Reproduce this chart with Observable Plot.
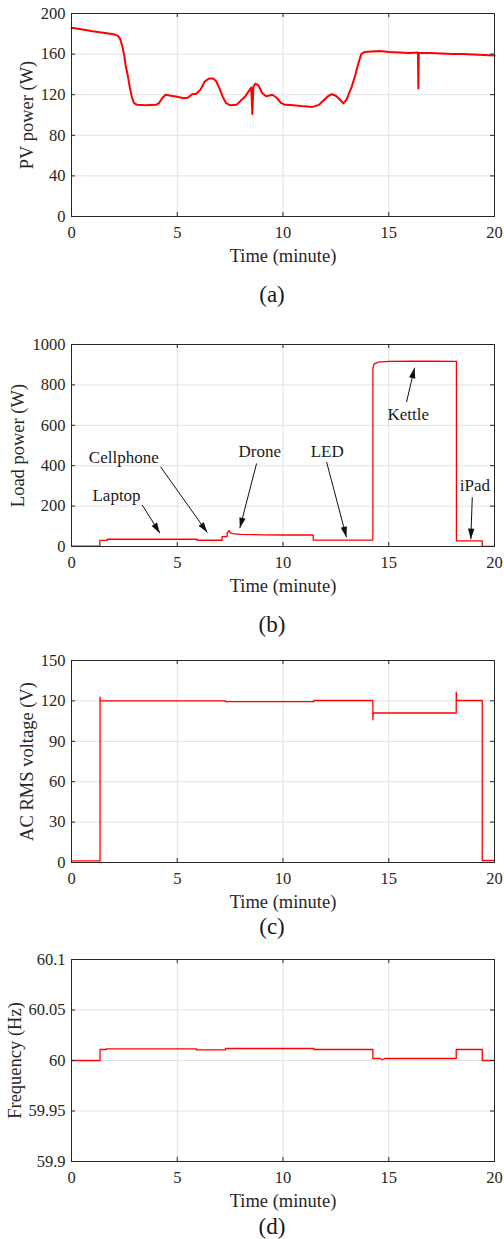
<!DOCTYPE html>
<html>
<head>
<meta charset="utf-8">
<script src="https://cdn.jsdelivr.net/npm/d3@7"></script>
<script src="https://cdn.jsdelivr.net/npm/@observablehq/plot@0.6"></script>
<style>
  html, body { margin: 0; padding: 0; background: #fff; }
  body { width: 504px; height: 1239px; position: relative; overflow: hidden;
         font-family: "Liberation Serif", "Times New Roman", serif; }
  svg, svg text { font-family: "Liberation Serif", "Times New Roman", serif !important; }
  .panel { position: absolute; left: 0; }
  .cap { position: absolute; left: 222px; width: 100px; text-align: center;
         font-size: 23px; line-height: 24px; color: #1a1a1a; }
</style>
</head>
<body>
<script>
// ---------- data ----------
const timeTicks = [0, 5, 10, 15, 20];

// (a) PV power
const pvTime  = [0, 0.3, 0.6, 1.0, 1.5, 2.0, 2.2, 2.3, 2.4, 2.5, 2.55, 2.65, 2.75, 2.85, 2.95, 3.1, 3.5, 4.0, 4.15, 4.3, 4.45, 4.7, 5.0, 5.3, 5.5, 5.7, 5.9, 6.1, 6.3, 6.5, 6.7, 6.85, 7.0, 7.15, 7.3, 7.5, 7.8, 8.0, 8.2, 8.4, 8.5, 8.55, 8.6, 8.7, 8.85, 9.0, 9.2, 9.5, 9.7, 9.9, 10.1, 10.5, 11.0, 11.4, 11.7, 11.9, 12.1, 12.3, 12.5, 12.7, 12.85, 13.0, 13.1, 13.25, 13.4, 13.55, 13.7, 13.85, 14.2, 14.6, 15.0, 15.5, 16.0, 16.38, 16.4, 16.42, 17.0, 17.5, 18.0, 18.5, 19.0, 19.5, 20];
const pvPower = [186, 185, 184, 182.5, 181, 179.5, 178, 175, 168, 158, 150, 140, 128, 118, 112, 110, 109.5, 110, 112, 117, 120, 119, 118, 116.5, 117, 120.5, 121, 125, 133, 136, 136, 133, 126, 118, 112, 109.5, 110, 114, 118, 124, 127, 101, 128, 131, 129, 122, 118.5, 120, 117, 112, 110, 109.5, 108.5, 108, 110, 114, 118, 120.5, 119, 115, 111.5, 115, 120, 128, 138, 150, 160, 162, 162.5, 163, 162, 161.5, 161, 161.5, 126, 161, 161, 160.5, 160, 160, 159.5, 159, 158.5];
const pvTicks = [0, 40, 80, 120, 160, 200];

// (b) load power
const loadTime  = [0, 1.34, 1.34, 1.69, 1.69, 5.94, 5.94, 7.12, 7.12, 7.36, 7.36, 7.45, 7.5, 7.6, 8.0, 9.0, 10.0, 11.43, 11.43, 14.25, 14.25, 14.3, 14.5, 15, 16, 17, 18.2, 18.2, 19.42, 19.42, 20];
const loadPower = [2, 2, 30, 30, 36, 36, 31, 31, 49, 49, 66, 79, 68, 64, 60, 58, 57, 57, 32, 32, 880, 903, 913, 916, 918, 917, 916, 28, 28, 1, 1];
const loadTicks = [0, 200, 400, 600, 800, 1000];
const deviceNames = ["Laptop", "Cellphone", "Drone", "LED", "Kettle", "iPad"];
const labelTime   = [2.13, 2.47, 8.9, 12.09, 15.92, 19.07];
const labelPower  = [250, 441, 469, 469, 655, 304];
const arrowTime1  = [3.34, 4.21, 8.75, 12.06, 15.84, 18.95];
const arrowPower1 = [206, 395, 411, 419, 715, 244];
const arrowTime2  = [4.18, 6.42, 7.96, 13.0, 16.22, 18.88];
const arrowPower2 = [66, 69, 91, 46, 885, 36];

// (c) AC RMS voltage
const voltTime = [0, 1.35, 1.35, 1.37, 1.5, 7.28, 7.28, 11.46, 11.46, 14.25, 14.25, 14.27, 14.35, 18.19, 18.19, 18.21, 18.3, 19.42, 19.42, 20];
const voltage  = [1.2, 1.2, 122.7, 120, 120, 120, 119.4, 119.4, 120.3, 120.3, 106, 111, 111, 111, 126.5, 120.3, 120.3, 120.3, 1.5, 1.5];
const voltTicks = [0, 30, 60, 90, 120, 150];

// (d) frequency
const freqTime = [0, 1.35, 1.35, 1.65, 1.65, 5.91, 5.91, 7.28, 7.28, 11.46, 11.46, 14.25, 14.25, 14.6, 14.7, 14.8, 18.19, 18.19, 19.42, 19.42, 20];
const frequency = [60, 60, 60.0109, 60.0109, 60.0116, 60.0116, 60.0106, 60.0106, 60.0119, 60.0119, 60.0109, 60.0109, 60.002, 60.002, 60.0008, 60.002, 60.002, 60.0109, 60.0109, 60, 60];
const freqTicks = [59.9, 59.95, 60, 60.05, 60.1];

// ---------- helpers ----------
const FONT = "Liberation Serif, Times New Roman, serif";
const INK = "#262626";
const W = 504, H = 270, ML = 71, MR = 10, MB = 54;

function filledArrow(color) {
  const ns = "http://www.w3.org/2000/svg";
  const m = document.createElementNS(ns, "marker");
  m.setAttribute("viewBox", "-11 -5 12 10");
  m.setAttribute("markerWidth", 12);
  m.setAttribute("markerHeight", 10);
  m.setAttribute("markerUnits", "userSpaceOnUse");
  m.setAttribute("orient", "auto");
  m.setAttribute("refX", 0);
  m.setAttribute("refY", 0);
  const p = document.createElementNS(ns, "path");
  p.setAttribute("d", "M0,0L-10.5,-3.2L-10.5,3.2Z");
  p.setAttribute("fill", color);
  p.setAttribute("stroke", "none");
  m.appendChild(p);
  return m;
}

function panel({times, values, yDomain, yTicks, yFormat, yLabel, labelX, mt, strokeWidth, extra = []}) {
  const fh = H - mt - MB, fw = W - ML - MR;
  const data = times.map((t, i) => ({t, v: values[i]}));
  return Plot.plot({
    width: W, height: H, marginLeft: ML, marginRight: MR, marginTop: mt, marginBottom: MB,
    style: {fontFamily: FONT, fontSize: "16.5px", color: INK, background: "transparent", overflow: "visible"},
    x: {domain: [0, 20]},
    y: {domain: yDomain},
    marks: [
      Plot.gridX(timeTicks, {stroke: "#e2e2e2", strokeOpacity: 1}),
      Plot.gridY(yTicks, {stroke: "#e2e2e2", strokeOpacity: 1}),
      Plot.line(data, {x: "t", y: "v", stroke: "#ff0000", strokeWidth, strokeLinejoin: "round"}),
      ...extra,
      Plot.frame({stroke: INK, strokeWidth: 1}),
      Plot.tickX(timeTicks, {x: d => d, insetTop: fh - 4, stroke: INK}),
      Plot.tickX(timeTicks, {x: d => d, insetBottom: fh - 4, stroke: INK}),
      Plot.tickY(yTicks, {y: d => d, insetRight: fw - 4, stroke: INK}),
      Plot.tickY(yTicks, {y: d => d, insetLeft: fw - 4, stroke: INK}),
      Plot.axisX(timeTicks, {tickSize: 0, tickPadding: 10, label: null, fill: INK, fontSize: 16.5}),
      Plot.axisY(yTicks, {tickSize: 0, tickPadding: 6, label: null, fill: INK, fontSize: 16.5, tickFormat: yFormat}),
      Plot.text(["Time (minute)"], {frameAnchor: "bottom", dy: 39.5, text: d => d, fontSize: 18.5,
        textAnchor: "middle", lineAnchor: "middle", fill: INK}),
      Plot.text([yLabel], {frameAnchor: "left", dx: labelX - ML, rotate: -90, text: d => d, fontSize: 18.5,
        textAnchor: "middle", lineAnchor: "middle", fill: INK})
    ]
  });
}

function place(svg, top) {
  const div = document.createElement("div");
  div.className = "panel";
  div.style.top = top + "px";
  div.appendChild(svg);
  document.body.appendChild(div);
}
function caption(text, centerY) {
  const div = document.createElement("div");
  div.className = "cap";
  div.style.top = (centerY - 12) + "px";
  div.textContent = text;
  document.body.appendChild(div);
}

// ---------- panels ----------
place(panel({times: pvTime, values: pvPower, yDomain: [0, 200], yTicks: pvTicks,
  yFormat: d => String(d), yLabel: "PV power (W)", labelX: 26.5, mt: 13, strokeWidth: 2}), 0);
caption("(a)", 295);

const notes = deviceNames.map((name, i) => ({name, t: labelTime[i], p: labelPower[i]}));
const arrows = deviceNames.map((name, i) => ({
  t1: arrowTime1[i], p1: arrowPower1[i], t2: arrowTime2[i], p2: arrowPower2[i]}));
place(panel({times: loadTime, values: loadPower, yDomain: [0, 1000], yTicks: loadTicks,
  yFormat: d => String(d), yLabel: "Load power (W)", labelX: 18, mt: 14, strokeWidth: 1.3,
  extra: [
    Plot.link(arrows, {x1: "t1", y1: "p1", x2: "t2", y2: "p2", stroke: "#111", strokeWidth: 1, markerEnd: filledArrow}),
    Plot.text(notes, {x: "t", y: "p", text: "name", fontSize: 17, fill: "#1a1a1a",
      textAnchor: "middle", lineAnchor: "middle"})
  ]}), 330);
caption("(b)", 625);

place(panel({times: voltTime, values: voltage, yDomain: [0, 150], yTicks: voltTicks,
  yFormat: d => String(d), yLabel: "AC RMS voltage (V)", labelX: 26.5, mt: 14, strokeWidth: 1.3}), 646);
caption("(c)", 927);

place(panel({times: freqTime, values: frequency, yDomain: [59.9, 60.1], yTicks: freqTicks,
  yFormat: d => String(+d.toFixed(2)), yLabel: "Frequency (Hz)", labelX: 15, mt: 14, strokeWidth: 1.3}), 945);
caption("(d)", 1226.5);
</script>
</body>
</html>
